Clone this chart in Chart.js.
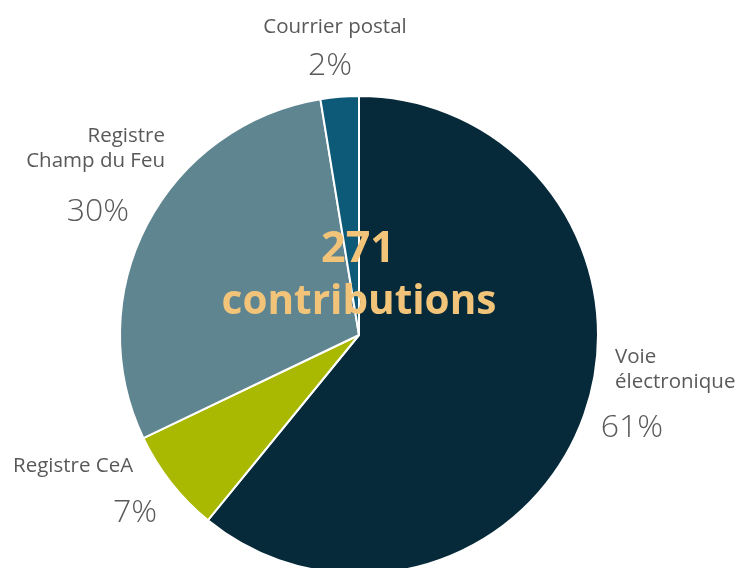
<!DOCTYPE html>
<html>
<head>
<meta charset="utf-8">
<script src="https://cdn.jsdelivr.net/npm/chart.js@4.4.1/dist/chart.umd.min.js"></script>
<style>
  html, body { margin: 0; padding: 0; background: #ffffff; overflow: hidden; width: 737px; height: 568px; }
  #wrap { position: absolute; left: 0; top: 0; width: 737px; height: 600px; }
</style>
</head>
<body>
<div id="wrap"><canvas id="c" width="737" height="600"></canvas></div>
<script>
// ---- Data ----
const categories = ["Voie électronique", "Registre CeA", "Registre Champ du Feu", "Courrier postal"];
const labelLines = [["Voie", "électronique"], ["Registre CeA"], ["Registre", "Champ du Feu"], ["Courrier postal"]];
const counts = [165, 19, 80, 7];
const percentLabels = ["61%", "7%", "30%", "2%"];
const totalLabel = "271";
const totalCaption = "contributions";

// ---- Styles ----
const colors = ["#062a3a", "#a9b800", "#5f8591", "#0d5a78"];
const labelLayout = [
  { nameX: 615, nameY: 363, nameAlign: "left",   pctX: 632, pctY: 437, pctAlign: "center" },
  { nameX: 13,  nameY: 472, nameAlign: "left",   pctX: 135, pctY: 522, pctAlign: "center" },
  { nameX: 165, nameY: 142, nameAlign: "right",  pctX: 98,  pctY: 221, pctAlign: "center" },
  { nameX: 335, nameY: 33,  nameAlign: "center", pctX: 330, pctY: 75,  pctAlign: "center" }
];
const FONT = "'Open Sans', 'Noto Sans', 'DejaVu Sans', sans-serif";

const labelsPlugin = {
  id: "customLabels",
  afterDatasetsDraw(chart) {
    const ctx = chart.ctx;
    const meta = chart.getDatasetMeta(0);
    ctx.save();
    ctx.fillStyle = "#595959";
    ctx.textBaseline = "alphabetic";
    labelLayout.forEach((L, i) => {
      ctx.font = "400 20.5px " + FONT;
      ctx.textAlign = L.nameAlign;
      labelLines[i].forEach((line, j) => {
        ctx.fillText(line, L.nameX, L.nameY + j * 25);
      });
      ctx.font = "300 32px " + FONT;
      ctx.textAlign = L.pctAlign;
      ctx.fillText(percentLabels[i], L.pctX, L.pctY);
    });
    // center text
    const arc = meta.data[0];
    const cx = arc.x, cy = arc.y;
    ctx.fillStyle = "#f2c47a";
    ctx.textAlign = "center";
    ctx.font = "700 43px " + FONT;
    ctx.fillText(totalLabel, cx - 1, cy - 73);
    ctx.font = "700 40.5px " + FONT;
    ctx.fillText(totalCaption, cx, cy - 21);
    ctx.restore();
  }
};

new Chart(document.getElementById("c"), {
  type: "pie",
  data: {
    labels: categories,
    datasets: [{
      data: counts,
      backgroundColor: colors,
      borderColor: "#ffffff",
      borderWidth: 2,
      clip: false
    }]
  },
  options: {
    responsive: false,
    animation: false,
    layout: { padding: { left: 119, right: 138, top: 95, bottom: 25 } },
    plugins: {
      legend: { display: false },
      tooltip: { enabled: false }
    }
  },
  plugins: [labelsPlugin]
});
</script>
</body>
</html>
